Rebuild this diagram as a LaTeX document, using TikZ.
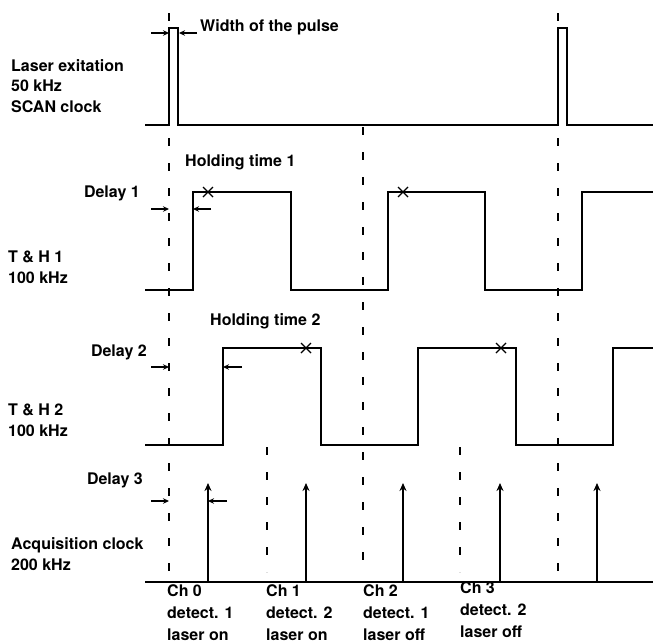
\documentclass[tikz,border=0pt]{standalone}
\usepackage{fontspec}
\setmainfont{TeX Gyre Heros}
\usetikzlibrary{arrows.meta}
\begin{document}
\begin{tikzpicture}[x=1pt,y=-1pt,
  wave/.style={line width=1.7pt, line join=miter},
  guide/.style={line width=1.6pt, dash pattern=on 8pt off 17pt},
  lbl/.style={font=\bfseries\fontsize{16}{20.5}\selectfont, align=left, inner sep=0pt},
  chl/.style={font=\bfseries\fontsize{16}{22}\selectfont, align=left, inner sep=0pt, anchor=west},
  dimarrow/.style={line width=1.3pt, -{Stealth[length=6pt,width=5.5pt]}},
  trig/.style={line width=1.7pt, -{Stealth[length=8pt,width=7pt]}},
  xmark/.style={line width=1.3pt}
]
\useasboundingbox (0,0) rectangle (653,643);

% guide lines
\draw[guide] (169,13) -- (169,580);
\draw[guide] (558,13) -- (558,580);
\draw[guide] (363,127) -- (363,575);
\draw[guide] (267,447) -- (267,572);
\draw[guide] (460,447) -- (460,572);

% waveforms
\draw[wave] (145,125) -- (169,125) -- (169,28) -- (178,28) -- (178,125) -- (558,125) -- (558,28) -- (567,28) -- (567,125) -- (653,125);
\draw[wave] (145,290) -- (193,290) -- (193,192) -- (291,192) -- (291,290) -- (388,290) -- (388,192) -- (485,192) -- (485,290) -- (582,290) -- (582,192) -- (653,192);
\draw[wave] (145,445) -- (223,445) -- (223,348) -- (321,348) -- (321,445) -- (418,445) -- (418,348) -- (516,348) -- (516,445) -- (613,445) -- (613,348) -- (653,348);
\draw[wave] (145,582) -- (653,582);

% acquisition triggers
\foreach \n/\x in {a/208,b/306,c/403,d/500,e/597}{
  \coordinate (acq\n0) at (\x,582);
  \coordinate (acq\n1) at (\x,483);
  \draw[trig] (acq\n0) -- (acq\n1);
}

% sampling marks
\foreach \x/\y in {208/192,403/192,306/348,501/348}{
  \draw[xmark] (\x-5,\y-5) -- (\x+5,\y+5) (\x-5,\y+5) -- (\x+5,\y-5);
}

% dimension arrows
\coordinate (w1s) at (151,33); \coordinate (w1e) at (169,33);
\coordinate (w2s) at (197,33); \coordinate (w2e) at (179,33);
\coordinate (d1s) at (151,209); \coordinate (d1e) at (169,209);
\coordinate (d1bs) at (211,209); \coordinate (d1be) at (193,209);
\coordinate (d2s) at (151,367); \coordinate (d2e) at (169,367);
\coordinate (d2bs) at (242,367); \coordinate (d2be) at (223,367);
\coordinate (d3s) at (151,501); \coordinate (d3e) at (169,501);
\coordinate (d3bs) at (227,501); \coordinate (d3be) at (208,501);
\draw[dimarrow] (w1s) -- (w1e);
\draw[dimarrow] (w2s) -- (w2e);
\draw[dimarrow] (d1s) -- (d1e);
\draw[dimarrow] (d1bs) -- (d1be);
\draw[dimarrow] (d2s) -- (d2e);
\draw[dimarrow] (d2bs) -- (d2be);
\draw[dimarrow] (d3s) -- (d3e);
\draw[dimarrow] (d3bs) -- (d3be);

% labels
\node[lbl, anchor=west] (laser) at (11,86) {Laser exitation\\50 kHz\\SCAN clock};
\node[lbl, anchor=west] (th1) at (8,267) {T \& H 1\\100 kHz};
\node[lbl, anchor=west] (th2) at (8,420) {T \& H 2\\100 kHz};
\node[lbl, anchor=west] (acq) at (11,554) {Acquisition clock\\200 kHz};
\node[lbl, anchor=west] (width) at (200,27) {Width of the pulse};
\node[lbl, anchor=west] (hold1) at (185,162) {Holding time 1};
\node[lbl, anchor=east] (del1) at (140,193) {Delay 1};
\node[lbl, anchor=west] (hold2) at (210,321) {Holding time 2};
\node[lbl, anchor=east] (del2) at (147,352) {Delay 2};
\node[lbl, anchor=east] (del3) at (143,480) {Delay 3};

\node[chl] (ch0) at (167,613) {Ch 0\\detect. 1\\laser on};
\node[chl] (ch1) at (266,613) {Ch 1\\detect. 2\\laser on};
\node[chl] (ch2) at (363,613) {Ch 2\\detect. 1\\laser off};
\node[chl] (ch3) at (460,610) {Ch 3\\detect. 2\\laser off};
\end{tikzpicture}
\end{document}
